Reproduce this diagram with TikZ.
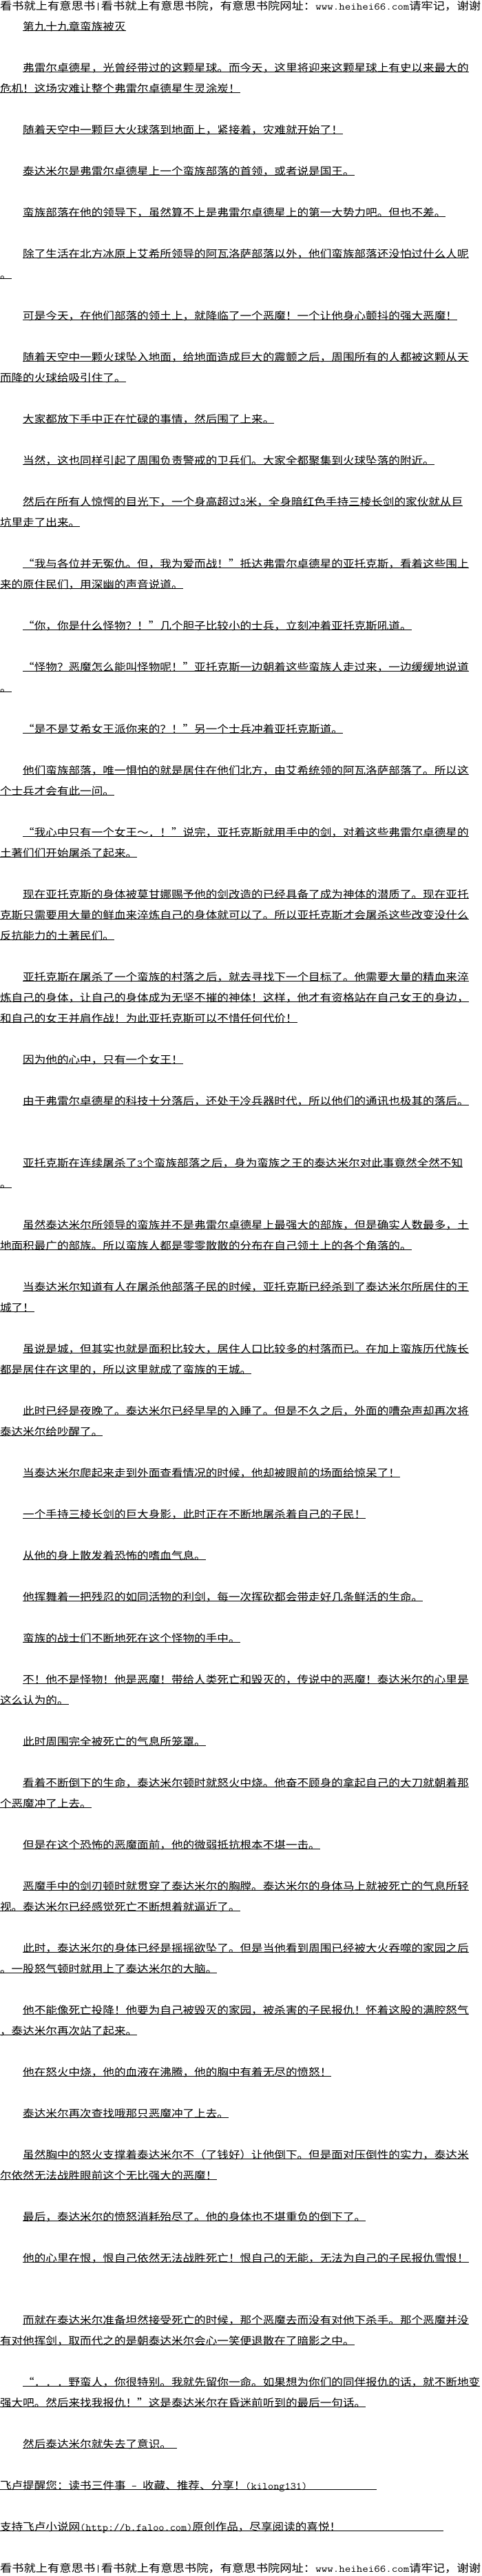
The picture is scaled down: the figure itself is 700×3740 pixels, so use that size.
\documentclass[tikz,border=0pt]{standalone}
\usepackage{fontspec}
\usepackage{graphicx}
\setmainfont{Noto Sans CJK SC}
\newcommand\bodyhz[1]{\scalebox{1.071}[1]{#1}}
\newcommand\hdhz[1]{\scalebox{1.116}[1]{#1}}
\newcommand\hf[1]{{\fontsize{14.8pt}{16pt}\selectfont\ttfamily #1}}
\newcommand\qo{\makebox[1em][r]{“}}
\newcommand\qc{\makebox[1em][l]{”}}
\def\indx{33.2}
\tikzset{
  ln/.style={anchor=base west, inner sep=0pt, outer sep=0pt, font=\fontsize{15.5pt}{18pt}\selectfont, text=black},
  hd/.style={anchor=base west, inner sep=0pt, outer sep=0pt, font=\fontsize{15.5pt}{18pt}\selectfont, text=black},
  ul/.style={line width=0.8pt, black},
}
\newcommand\tline[4]{%
  \node[ln] (#1) at (#3,{-14-30*#2}) {\bodyhz{#4}};
  \draw[ul] ([yshift=-0.6pt]#1.base west) -- ([yshift=-0.6pt]#1.base east);
}
\begin{document}
\begin{tikzpicture}[x=1pt,y=1pt]
\fill[white] (0,0) rectangle (700,-3740);
\useasboundingbox (0,0) rectangle (700,-3740);

\node[hd] (h0) at (0,-14) {\hdhz{看书就上有意思书\hf{|}看书就上有意思书院，有意思书院网址：\hf{www.heihei66.com}请牢记，谢谢}};

\tline{l1}{1}{\indx}{第九十九章蛮族被灭}
\tline{l3}{3}{\indx}{弗雷尔卓德星，光曾经带过的这颗星球。而今天，这里将迎来这颗星球上有史以来最大的}
\tline{l4}{4}{0}{危机！这场灾难让整个弗雷尔卓德星生灵涂炭！}
\tline{l6}{6}{\indx}{随着天空中一颗巨大火球落到地面上，紧接着，灾难就开始了！}
\tline{l8}{8}{\indx}{泰达米尔是弗雷尔卓德星上一个蛮族部落的首领，或者说是国王。}
\tline{l10}{10}{\indx}{蛮族部落在他的领导下，虽然算不上是弗雷尔卓德星上的第一大势力吧。但也不差。}
\tline{l12}{12}{\indx}{除了生活在北方冰原上艾希所领导的阿瓦洛萨部落以外，他们蛮族部落还没怕过什么人呢}
\tline{l13}{13}{0}{。}
\tline{l15}{15}{\indx}{可是今天，在他们部落的领土上，就降临了一个恶魔！一个让他身心颤抖的强大恶魔！}
\tline{l17}{17}{\indx}{随着天空中一颗火球坠入地面，给地面造成巨大的震颤之后，周围所有的人都被这颗从天}
\tline{l18}{18}{0}{而降的火球给吸引住了。}
\tline{l20}{20}{\indx}{大家都放下手中正在忙碌的事情，然后围了上来。}
\tline{l22}{22}{\indx}{当然，这也同样引起了周围负责警戒的卫兵们。大家全都聚集到火球坠落的附近。}
\tline{l24}{24}{\indx}{然后在所有人惊愕的目光下，一个身高超过\hf{3}米，全身暗红色手持三棱长剑的家伙就从巨}
\tline{l25}{25}{0}{坑里走了出来。}
\tline{l27}{27}{\indx}{\qo 我与各位并无冤仇。但，我为爱而战！\qc 抵达弗雷尔卓德星的亚托克斯，看着这些围上}
\tline{l28}{28}{0}{来的原住民们，用深幽的声音说道。}
\tline{l30}{30}{\indx}{\qo 你，你是什么怪物？！\qc 几个胆子比较小的士兵，立刻冲着亚托克斯吼道。}
\tline{l32}{32}{\indx}{\qo 怪物？恶魔怎么能叫怪物呢！\qc 亚托克斯一边朝着这些蛮族人走过来，一边缓缓地说道}
\tline{l33}{33}{0}{。}
\tline{l35}{35}{\indx}{\qo 是不是艾希女王派你来的？！\qc 另一个士兵冲着亚托克斯道。}
\tline{l37}{37}{\indx}{他们蛮族部落，唯一惧怕的就是居住在他们北方，由艾希统领的阿瓦洛萨部落了。所以这}
\tline{l38}{38}{0}{个士兵才会有此一问。}
\tline{l40}{40}{\indx}{\qo 我心中只有一个女王～．！\qc 说完，亚托克斯就用手中的剑，对着这些弗雷尔卓德星的}
\tline{l41}{41}{0}{土著们们开始屠杀了起来。}
\tline{l43}{43}{\indx}{现在亚托克斯的身体被莫甘娜赐予他的剑改造的已经具备了成为神体的潜质了。现在亚托}
\tline{l44}{44}{0}{克斯只需要用大量的鲜血来淬炼自己的身体就可以了。所以亚托克斯才会屠杀这些改变没什么}
\tline{l45}{45}{0}{反抗能力的土著民们。}
\tline{l47}{47}{\indx}{亚托克斯在屠杀了一个蛮族的村落之后，就去寻找下一个目标了。他需要大量的精血来淬}
\tline{l48}{48}{0}{炼自己的身体，让自己的身体成为无坚不摧的神体！这样，他才有资格站在自己女王的身边，}
\tline{l49}{49}{0}{和自己的女王并肩作战！为此亚托克斯可以不惜任何代价！}
\tline{l51}{51}{\indx}{因为他的心中，只有一个女王！}
\tline{l53}{53}{\indx}{由于弗雷尔卓德星的科技十分落后，还处于冷兵器时代，所以他们的通讯也极其的落后。}
\tline{l56}{56}{\indx}{亚托克斯在连续屠杀了\hf{3}个蛮族部落之后，身为蛮族之王的泰达米尔对此事竟然全然不知}
\tline{l57}{57}{0}{。}
\tline{l59}{59}{\indx}{虽然泰达米尔所领导的蛮族并不是弗雷尔卓德星上最强大的部族，但是确实人数最多，土}
\tline{l60}{60}{0}{地面积最广的部族。所以蛮族人都是零零散散的分布在自己领土上的各个角落的。}
\tline{l62}{62}{\indx}{当泰达米尔知道有人在屠杀他部落子民的时候，亚托克斯已经杀到了泰达米尔所居住的王}
\tline{l63}{63}{0}{城了！}
\tline{l65}{65}{\indx}{虽说是城，但其实也就是面积比较大，居住人口比较多的村落而已。在加上蛮族历代族长}
\tline{l66}{66}{0}{都是居住在这里的，所以这里就成了蛮族的王城。}
\tline{l68}{68}{\indx}{此时已经是夜晚了。泰达米尔已经早早的入睡了。但是不久之后，外面的嘈杂声却再次将}
\tline{l69}{69}{0}{泰达米尔给吵醒了。}
\tline{l71}{71}{\indx}{当泰达米尔爬起来走到外面查看情况的时候，他却被眼前的场面给惊呆了！}
\tline{l73}{73}{\indx}{一个手持三棱长剑的巨大身影，此时正在不断地屠杀着自己的子民！}
\tline{l75}{75}{\indx}{从他的身上散发着恐怖的嗜血气息。}
\tline{l77}{77}{\indx}{他挥舞着一把残忍的如同活物的利剑，每一次挥砍都会带走好几条鲜活的生命。}
\tline{l79}{79}{\indx}{蛮族的战士们不断地死在这个怪物的手中。}
\tline{l81}{81}{\indx}{不！他不是怪物！他是恶魔！带给人类死亡和毁灭的，传说中的恶魔！泰达米尔的心里是}
\tline{l82}{82}{0}{这么认为的。}
\tline{l84}{84}{\indx}{此时周围完全被死亡的气息所笼罩。}
\tline{l86}{86}{\indx}{看着不断倒下的生命，泰达米尔顿时就怒火中烧。他奋不顾身的拿起自己的大刀就朝着那}
\tline{l87}{87}{0}{个恶魔冲了上去。}
\tline{l89}{89}{\indx}{但是在这个恐怖的恶魔面前，他的微弱抵抗根本不堪一击。}
\tline{l91}{91}{\indx}{恶魔手中的剑刃顿时就贯穿了泰达米尔的胸膛。泰达米尔的身体马上就被死亡的气息所轻}
\tline{l92}{92}{0}{视。泰达米尔已经感觉死亡不断想着就逼近了。}
\tline{l94}{94}{\indx}{此时，泰达米尔的身体已经是摇摇欲坠了。但是当他看到周围已经被大火吞噬的家园之后}
\tline{l95}{95}{0}{。一股怒气顿时就用上了泰达米尔的大脑。}
\tline{l97}{97}{\indx}{他不能像死亡投降！他要为自己被毁灭的家园，被杀害的子民报仇！怀着这股的满腔怒气}
\tline{l98}{98}{0}{，泰达米尔再次站了起来。}
\tline{l100}{100}{\indx}{他在怒火中烧，他的血液在沸腾，他的胸中有着无尽的愤怒！}
\tline{l102}{102}{\indx}{泰达米尔再次查找哦那只恶魔冲了上去。}
\tline{l104}{104}{\indx}{虽然胸中的怒火支撑着泰达米尔不（了钱好）让他倒下。但是面对压倒性的实力，泰达米}
\tline{l105}{105}{0}{尔依然无法战胜眼前这个无比强大的恶魔！}
\tline{l107}{107}{\indx}{最后，泰达米尔的愤怒消耗殆尽了。他的身体也不堪重负的倒下了。}
\tline{l109}{109}{\indx}{他的心里在恨，恨自己依然无法战胜死亡！恨自己的无能，无法为自己的子民报仇雪恨！}
\tline{l112}{112}{\indx}{而就在泰达米尔准备坦然接受死亡的时候，那个恶魔去而没有对他下杀手。那个恶魔并没}
\tline{l113}{113}{0}{有对他挥剑，取而代之的是朝泰达米尔会心一笑便退散在了暗影之中。}
\tline{l115}{115}{\indx}{\qo ．．．野蛮人，你很特别。我就先留你一命。如果想为你们的同伴报仇的话，就不断地变}
\tline{l116}{116}{0}{强大吧。然后来找我报仇！\qc 这是泰达米尔在昏迷前听到的最后一句话。}

\node[ln] (l118) at (\indx,{-14-30*118}) {\bodyhz{然后泰达米尔就失去了意识。}};
\coordinate (e118) at (257,{-14.6-30*118});
\draw[ul] ([yshift=-0.6pt]l118.base west) -- (e118);

\node[ln] (l120) at (0,{-14-30*120}) {\bodyhz{飞卢提醒您：读书三件事\hf{\ -\ }收藏、推荐、分享！\hf{(kilong131)}}};
\coordinate (e120) at (547,{-14.6-30*120});
\draw[ul] ([yshift=-0.6pt]l120.base west) -- (e120);

\node[ln] (l122) at (0,{-14-30*122}) {\bodyhz{支持飞卢小说网\hf{(http://b.faloo.com)}原创作品，尽享阅读的喜悦！}};
\coordinate (e122) at (644,{-14.6-30*122});
\draw[ul] ([yshift=-0.6pt]l122.base west) -- (e122);

\node[hd] (h124) at (0,{-14-30*124}) {\hdhz{看书就上有意思书\hf{|}看书就上有意思书院，有意思书院网址：\hf{www.heihei66.com}请牢记，谢谢}};
\end{tikzpicture}
\end{document}
